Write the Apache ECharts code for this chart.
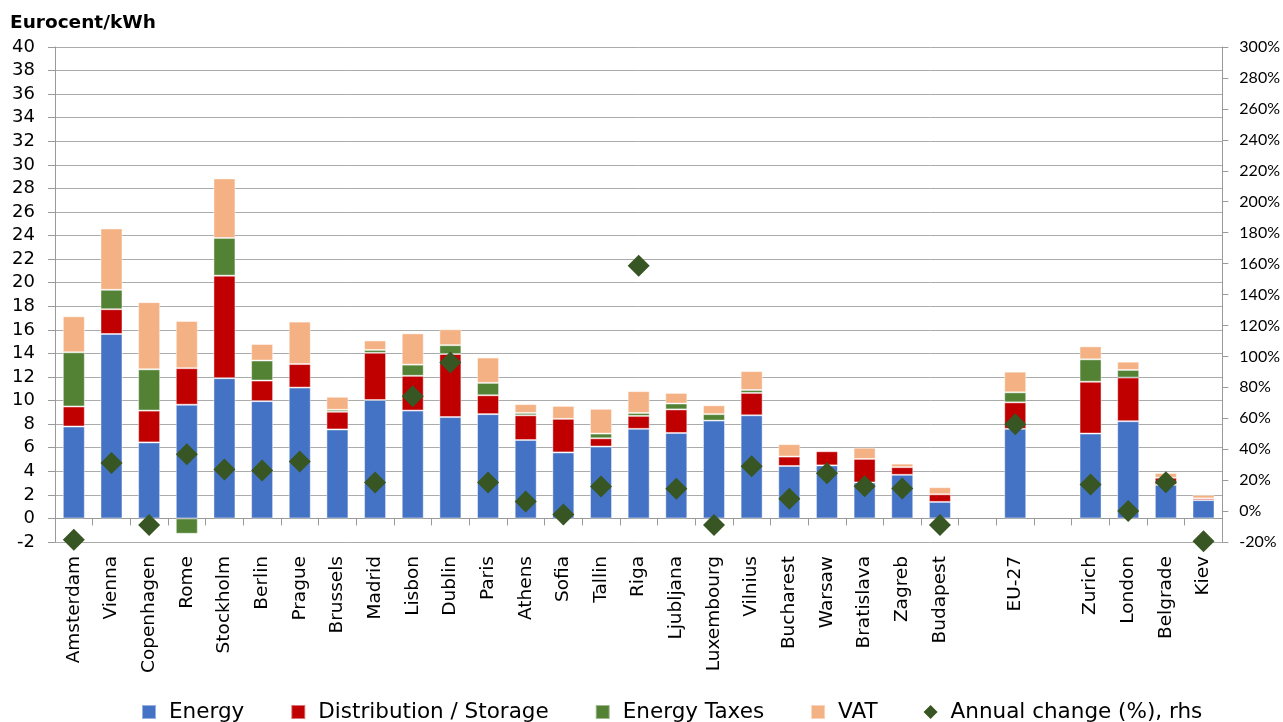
<!DOCTYPE html>
<html>
<head>
<meta charset="utf-8">
<title>Electricity prices by component</title>
<script src="https://cdn.jsdelivr.net/npm/echarts@6/dist/echarts.min.js"></script>
<style>
  html, body { margin: 0; padding: 0; background: #ffffff; }
  #chart { width: 1283px; height: 722px; }
</style>
</head>
<body>
<div id="chart"></div>
<script>
// Cities (two empty slots separate the EU-27 average from the rest)
const categories = ['Amsterdam', 'Vienna', 'Copenhagen', 'Rome', 'Stockholm', 'Berlin', 'Prague',
  'Brussels', 'Madrid', 'Lisbon', 'Dublin', 'Paris', 'Athens', 'Sofia', 'Tallin', 'Riga',
  'Ljubljana', 'Luxembourg', 'Vilnius', 'Bucharest', 'Warsaw', 'Bratislava', 'Zagreb',
  'Budapest', '', 'EU-27', '', 'Zurich', 'London', 'Belgrade', 'Kiev'];

// Price components, eurocent/kWh
const energy = [7.8, 15.65, 6.45, 9.65, 11.9, 9.95, 11.1, 7.55, 10.05, 9.15, 8.6, 8.85, 6.65, 5.6,
  6.1, 7.6, 7.25, 8.3, 8.75, 4.45, 4.5, 3.05, 3.7, 1.4, null, 7.6, null, 7.2, 8.25, 2.85, 1.55];
const distribution = [1.7, 2.1, 2.7, 3.1, 8.7, 1.75, 2.0, 1.5, 4.0, 2.95, 5.35, 1.6, 2.1, 2.85,
  0.7, 1.1, 2.0, null, 1.9, 0.8, 1.2, 2.0, 0.65, 0.65, null, 2.25, null, 4.4, 3.7, 0.6, 0.15];
const energyTaxes = [4.6, 1.65, 3.5, -1.3, 3.2, 1.7, null, 0.17, 0.25, 0.95, 0.75, 1.05, 0.2, null,
  0.4, 0.25, 0.5, 0.55, 0.25, null, null, null, null, null, null, 0.85, null, 1.9, 0.65, null, null];
const vat = [3.05, 5.2, 5.7, 4.0, 5.05, 1.4, 3.6, 1.1, 0.8, 2.65, 1.35, 2.15, 0.75, 1.1, 2.1,
  1.85, 0.9, 0.75, 1.6, 1.05, null, 0.95, 0.3, 0.6, null, 1.75, null, 1.1, 0.7, 0.4, 0.3];

// Year-on-year change of the total price, % (right-hand axis)
const annualChange = [-18.5, 31, -9, 36.8, 26.9, 26.3, 32.1, null, 18.5, 74.3, 96.1, 18.5, 6.2,
  -2.3, 15.9, 158.6, 14.4, -9, 28.9, 7.9, 24.5, 16.1, 14.6, -9, null, 56.1, null, 17.2, 0, 18.7, -19.5];

const leftTicks = { min: -2, max: 40, interval: 2 };
const rightTicks = { min: -20, max: 300, interval: 20 };

const COLORS = {
  energy: '#4472C4',
  distribution: '#C00000',
  taxes: '#548235',
  vat: '#F4B183',
  change: '#375623'
};
const GRID_GREY = '#ababab';
const AXIS_GREY = '#9a9a9a';
const FONT = 'DejaVu Sans';

function barSeries(name, data, color) {
  return {
    name: name,
    type: 'bar',
    stack: 'price',
    barWidth: 22,
    data: data,
    itemStyle: { color: color, borderColor: 'rgba(255,255,255,0.45)', borderWidth: 1 },
    emphasis: { disabled: true }
  };
}

const chart = echarts.init(document.getElementById('chart'), null, { renderer: 'canvas' });

chart.setOption({
  animation: false,
  backgroundColor: '#ffffff',
  title: {
    text: 'Eurocent/kWh',
    left: 10,
    top: 14,
    padding: 0,
    textStyle: { fontFamily: FONT, fontWeight: 'bold', fontSize: 18.5, color: '#000000' }
  },
  grid: { left: 55, right: 60, top: 47, bottom: 180, containLabel: false },
  legend: {
    left: 141,
    top: 701,
    padding: 0,
    itemWidth: 14,
    itemHeight: 14,
    itemGap: 46,
    textStyle: { fontFamily: FONT, fontSize: 21.5, color: '#000000', padding: [0, 0, 0, 8] },
    data: [
      { name: 'Energy', icon: 'rect' },
      { name: 'Distribution / Storage', icon: 'rect' },
      { name: 'Energy Taxes', icon: 'rect' },
      { name: 'VAT', icon: 'rect' },
      { name: 'Annual change (%), rhs', icon: 'diamond' }
    ]
  },
  xAxis: [
    {
      // city labels along the bottom edge
      type: 'category',
      data: categories,
      position: 'bottom',
      axisLine: { show: false, onZero: false },
      axisTick: { show: false },
      axisLabel: {
        interval: 0, rotate: 90, margin: 14,
        fontFamily: FONT, fontSize: 18.5, color: '#000000'
      },
      splitLine: { show: false }
    },
    {
      // zero line with category tick marks
      type: 'category',
      data: categories,
      position: 'bottom',
      axisLine: { show: true, onZero: true, onZeroAxisIndex: 0, lineStyle: { color: AXIS_GREY, width: 1 } },
      axisTick: { show: true, interval: 0, length: 7, lineStyle: { color: AXIS_GREY } },
      axisLabel: { show: false },
      splitLine: { show: false }
    }
  ],
  yAxis: [
    {
      type: 'value',
      position: 'left',
      min: leftTicks.min,
      max: leftTicks.max,
      interval: leftTicks.interval,
      axisLine: { show: true, lineStyle: { color: AXIS_GREY } },
      axisTick: { show: true, length: 7, lineStyle: { color: AXIS_GREY } },
      axisLabel: { margin: 20, fontFamily: FONT, fontSize: 18, color: '#000000' },
      splitLine: { show: true, lineStyle: { color: GRID_GREY, width: 1 } }
    },
    {
      type: 'value',
      position: 'right',
      min: rightTicks.min,
      max: rightTicks.max,
      interval: rightTicks.interval,
      axisLine: { show: true, lineStyle: { color: AXIS_GREY } },
      axisTick: { show: true, length: 6, lineStyle: { color: AXIS_GREY } },
      axisLabel: { margin: 17, fontFamily: 'Lato', fontSize: 16, color: '#000000', formatter: '{value}%' },
      splitLine: { show: false }
    }
  ],
  series: [
    barSeries('Energy', energy, COLORS.energy),
    barSeries('Distribution / Storage', distribution, COLORS.distribution),
    barSeries('Energy Taxes', energyTaxes, COLORS.taxes),
    barSeries('VAT', vat, COLORS.vat),
    {
      name: 'Annual change (%), rhs',
      type: 'scatter',
      yAxisIndex: 1,
      symbol: 'diamond',
      symbolSize: [22, 22],
      data: annualChange,
      itemStyle: { color: COLORS.change, opacity: 1 },
      z: 5,
      emphasis: { disabled: true }
    }
  ]
});
</script>
</body>
</html>
